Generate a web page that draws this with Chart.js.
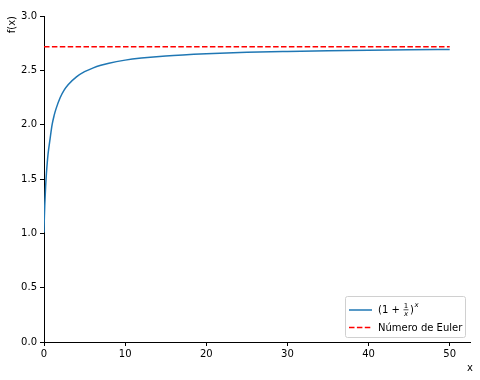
<!DOCTYPE html>
<html>
<head>
<meta charset="utf-8">
<script src="https://cdn.jsdelivr.net/npm/chart.js@4"></script>
<style>
  html, body { margin: 0; padding: 0; background: #fff; }
  #wrap { width: 480px; height: 380px; position: relative; }
</style>
</head>
<body>
<div id="wrap"><canvas id="chart1"></canvas></div>
<script>
// values
const xs = [0.001, 0.01, 0.02, 0.05, 0.1, 0.2, 0.3, 0.4, 0.5, 0.75, 1, 1.25, 1.5, 2, 2.5, 3, 4, 5, 6, 7, 8, 10, 12, 15, 20, 25, 30, 35, 40, 45, 50];
const fx = [1.007, 1.047, 1.082, 1.164, 1.27, 1.431, 1.553, 1.65, 1.73, 1.87, 2.0, 2.085, 2.15, 2.25, 2.32, 2.37, 2.44, 2.488, 2.52, 2.546, 2.566, 2.594, 2.613, 2.633, 2.653, 2.666, 2.674, 2.68, 2.685, 2.689, 2.692];
const eulerX = [0, 50];
const eulerY = [2.718, 2.718];
const xTicks = [0, 10, 20, 30, 40, 50];
const yTicks = [0, 0.5, 1.0, 1.5, 2.0, 2.5, 3.0];

const FONT = '10px "DejaVu Sans"';

// axis labels + matplotlib-style legend
const extras = {
  id: 'extras',
  afterDraw(chart) {
    const c = chart.ctx;
    c.save();
    c.fillStyle = '#000';
    c.font = FONT;
    // y label
    c.save();
    c.translate(15, 16);
    c.rotate(-Math.PI / 2);
    c.textAlign = 'right';
    c.textBaseline = 'middle';
    c.fillText('f(x)', 0, -3);
    c.restore();
    // x label
    c.textAlign = 'center';
    c.textBaseline = 'alphabetic';
    c.fillText('x', 470, 371);

    // legend box
    const bx = 345.5, by = 296.5, bw = 120, bh = 41, r = 2;
    c.beginPath();
    c.moveTo(bx + r, by);
    c.lineTo(bx + bw - r, by);
    c.quadraticCurveTo(bx + bw, by, bx + bw, by + r);
    c.lineTo(bx + bw, by + bh - r);
    c.quadraticCurveTo(bx + bw, by + bh, bx + bw - r, by + bh);
    c.lineTo(bx + r, by + bh);
    c.quadraticCurveTo(bx, by + bh, bx, by + bh - r);
    c.lineTo(bx, by + r);
    c.quadraticCurveTo(bx, by, bx + r, by);
    c.closePath();
    c.fillStyle = 'rgba(255,255,255,0.8)';
    c.fill();
    c.strokeStyle = '#d0d0d0';
    c.lineWidth = 1;
    c.stroke();

    const ds = chart.data.datasets;
    // sample lines
    c.lineWidth = 1.5;
    c.strokeStyle = ds[0].borderColor;
    c.setLineDash([]);
    c.beginPath(); c.moveTo(349, 310); c.lineTo(372, 310); c.stroke();
    c.strokeStyle = ds[1].borderColor;
    c.setLineDash(ds[1].borderDash);
    c.beginPath(); c.moveTo(349, 327.5); c.lineTo(372, 327.5); c.stroke();
    c.setLineDash([]);

    // label 1: (1 + 1/x)^x
    c.fillStyle = '#000';
    c.textAlign = 'left';
    c.textBaseline = 'alphabetic';
    c.font = FONT;
    let tx = 378;
    c.fillText('(1 + ', tx, 313);
    tx += c.measureText('(1 + ').width;
    c.font = '7px "DejaVu Sans"';
    c.textAlign = 'center';
    c.fillText('1', tx + 3, 308);
    c.font = 'italic 7px "DejaVu Sans"';
    c.fillText('x', tx + 3, 316);
    c.fillRect(tx + 0.5, 309.5, 5, 0.7);
    tx += 7;
    c.textAlign = 'left';
    c.font = FONT;
    c.fillText(')', tx, 313);
    tx += c.measureText(')').width;
    c.font = 'italic 7px "DejaVu Sans"';
    c.fillText('x', tx + 0.5, 307);
    // label 2
    c.font = FONT;
    c.fillText(ds[1].label, 378, 331);
    c.restore();
  }
};

new Chart(document.getElementById('chart1').getContext('2d'), {
  type: 'line',
  data: {
    datasets: [{
      label: '(1 + 1/x)^x',
      data: xs.map((x, i) => ({ x: x, y: fx[i] })),
      borderColor: '#1f77b4',
      borderWidth: 1.5,
      pointRadius: 0,
      cubicInterpolationMode: 'monotone',
      fill: false
    }, {
      label: 'Número de Euler',
      data: eulerX.map((x, i) => ({ x: x, y: eulerY[i] })),
      borderColor: '#ff0000',
      borderWidth: 1.5,
      borderDash: [5.5, 2.4],
      pointRadius: 0,
      fill: false
    }]
  },
  options: {
    responsive: true,
    maintainAspectRatio: false,
    animation: false,
    layout: { padding: { left: 0, right: 10, top: 16, bottom: 0 } },
    plugins: { legend: { display: false }, tooltip: { enabled: false } },
    scales: {
      x: {
        type: 'linear',
        min: 0,
        max: 52.5,
        afterBuildTicks: s => { s.ticks = xTicks.map(v => ({ value: v })); },
        afterFit: s => { s.height = 38; },
        grid: { drawOnChartArea: false, drawTicks: true, tickLength: 4, color: '#000', tickWidth: 1 },
        border: { display: true, color: '#000', width: 1 },
        ticks: { color: '#000', font: { family: 'DejaVu Sans', size: 10 }, padding: 2, maxRotation: 0 }
      },
      y: {
        type: 'linear',
        min: 0,
        max: 3,
        afterBuildTicks: s => { s.ticks = yTicks.map(v => ({ value: v })); },
        afterFit: s => { s.width = 44; },
        grid: { drawOnChartArea: false, drawTicks: true, tickLength: 4, color: '#000', tickWidth: 1 },
        border: { display: true, color: '#000', width: 1 },
        ticks: {
          color: '#000', font: { family: 'DejaVu Sans', size: 10 }, padding: 3,
          callback: v => v.toFixed(1)
        }
      }
    }
  },
  plugins: [extras]
});
</script>
</body>
</html>
